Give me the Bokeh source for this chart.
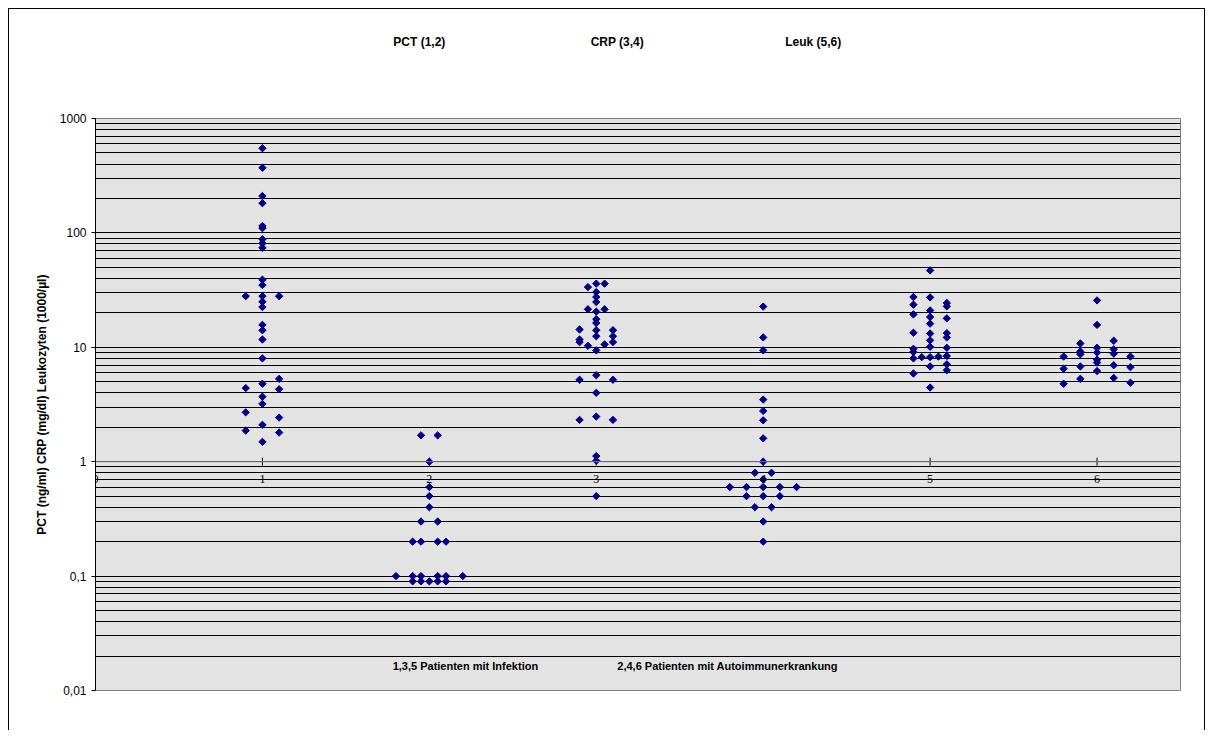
import numpy as np
from bokeh.plotting import figure
from bokeh.models import (Range1d, FixedTicker, Span, Label, LabelSet, LinearAxis,
                          ColumnDataSource, CustomJSTickFormatter)
from bokeh.layouts import column
from bokeh.embed import file_html
from bokeh.resources import INLINE

# ---------------- data ----------------
# 1: PCT, infection
pct_inf_x = [1.0]*23 + [0.9]*4 + [1.1]*5
pct_inf_y = [550, 371, 210, 182, 115, 110, 88, 81, 74, 39, 35, 28, 25, 22.5,
             15.7, 14.1, 11.7, 8.0, 4.8, 3.7, 3.2, 2.1, 1.49,
             28, 4.4, 2.7, 1.87,
             28, 5.3, 4.3, 2.43, 1.80]
# 2: PCT, autoimmune
pct_auto_x = [1.95, 2.05, 2.0, 2.0, 2.0, 2.0, 1.95, 2.05,
              1.9, 1.95, 2.05, 2.1,
              1.8, 1.9, 1.95, 2.05, 2.1, 2.2,
              1.9, 1.95, 2.0, 2.05, 2.1]
pct_auto_y = [1.7, 1.7, 1.0, 0.6, 0.5, 0.4, 0.3, 0.3,
              0.2, 0.2, 0.2, 0.2,
              0.1, 0.1, 0.1, 0.1, 0.1, 0.1,
              0.09, 0.09, 0.09, 0.09, 0.09]
# 3: CRP, infection
crp_inf_x = [2.95, 3.0, 3.05, 3.0, 3.0, 3.0, 2.95, 3.0, 3.05, 3.0, 3.0,
             2.9, 3.0, 3.1, 3.0, 3.1, 2.9, 2.9, 3.1, 2.95, 3.05, 3.0,
             3.0, 2.9, 3.1, 3.0, 3.0, 2.9, 3.1, 3.0, 3.0, 3.0]
crp_inf_y = [33.6, 36, 36, 30.4, 27.5, 24.9, 21.5, 20.5, 21.5, 17.6, 16.3,
             14.3, 14.1, 14.1, 12.5, 12.5, 11.7, 11.1, 11.1, 10.3, 10.6, 9.4,
             5.7, 5.2, 5.2, 4.0, 2.48, 2.32, 2.32, 1.12, 1.02, 0.5]
# 4: CRP, autoimmune
crp_auto_x = [4.0]*11 + [3.95, 4.05] + [3.8, 3.9, 4.0, 4.1, 4.2] + [3.9, 4.0, 4.1] + [3.95, 4.05]
crp_auto_y = [22.7, 12.2, 9.4, 3.49, 2.78, 2.30, 1.60, 1.0, 0.7, 0.3, 0.2,
              0.8, 0.8, 0.6, 0.6, 0.6, 0.6, 0.6, 0.5, 0.5, 0.5, 0.4, 0.4]
# 5: Leukocytes, infection
leuk_inf_x = [5.0, 4.9, 5.0, 4.9, 5.1, 5.1, 4.9, 5.0, 5.0, 5.1, 5.0, 4.9, 5.0,
              5.1, 5.1, 5.0, 5.0, 4.9, 5.1, 4.9, 4.9, 4.95, 5.0, 5.05, 5.1,
              5.1, 5.0, 5.1, 4.9, 5.0]
leuk_inf_y = [47.0, 27.5, 27.3, 23.6, 24.4, 22.8, 19.4, 21.0, 18.4, 17.9, 16.1,
              13.4, 13.2, 13.3, 12.2, 11.5, 10.1, 9.7, 9.9, 9.1, 8.0, 8.2, 8.2,
              8.3, 8.4, 7.1, 6.8, 6.3, 5.9, 4.45]
# 6: Leukocytes, autoimmune
leuk_auto_x = [6.0, 6.0, 5.9, 6.1, 5.9, 5.9, 6.0, 6.0, 6.1, 6.1, 5.8, 6.2,
               6.0, 6.0, 5.9, 6.1, 5.8, 6.2, 6.0, 5.9, 6.1, 5.8, 6.2]
leuk_auto_y = [25.7, 15.7, 10.8, 11.4, 9.2, 8.7, 9.9, 9.0, 9.6, 8.8, 8.3, 8.3,
               7.8, 7.35, 6.8, 6.97, 6.5, 6.7, 6.2, 5.3, 5.4, 4.8, 4.9]

x_ticks = [0, 1, 2, 3, 4, 5, 6]
x_tick_labels = ["0", "1", "2", "3", "4", "5", "6"]
y_major = [0.01, 0.1, 1, 10, 100, 1000]

titles = ["PCT (1,2)", "CRP (3,4)", "Leuk (5,6)"]
title_x = [1.94, 3.126, 4.30]
notes = ["1,3,5 Patienten mit Infektion", "2,4,6 Patienten mit Autoimmunerkrankung"]
note_x = [2.216, 3.787]

FONT = "Liberation Sans"

# ---------------- figure ----------------
p = figure(width=1195, height=721,
           x_range=Range1d(0, 6.5), y_range=Range1d(0.01, 1000),
           y_axis_type="log", output_backend="svg", toolbar_location=None,
           min_border_left=86, min_border_right=24,
           min_border_top=109, min_border_bottom=40,
           background_fill_color="#e3e3e3", border_fill_color="white",
           outline_line_color="#808080")

minor = [m * d for d in [0.01, 0.1, 1, 10, 100] for m in range(2, 10)]
ticker = FixedTicker(ticks=y_major, minor_ticks=minor)
p.yaxis.ticker = ticker
p.ygrid.ticker = ticker
p.ygrid.grid_line_color = "black"
p.ygrid.minor_grid_line_color = "black"
p.xgrid.visible = False
p.xaxis.visible = False

ya = p.yaxis[0]
ya.formatter = CustomJSTickFormatter(code="return String(tick).replace('.', ',');")
ya.axis_label = "PCT (ng/ml) CRP (mg/dl) Leukozyten (1000/µl)"
ya.axis_label_text_font = FONT
ya.axis_label_text_font_style = "bold"
ya.axis_label_text_font_size = "12px"
ya.axis_label_text_color = "black"
ya.axis_label_standoff = 8
ya.major_label_text_font = FONT
ya.major_label_text_font_size = "12px"
ya.major_label_text_color = "black"
ya.major_label_standoff = 5
ya.major_tick_out = 4
ya.major_tick_in = 0
ya.minor_tick_line_color = None
ya.axis_line_color = "black"
ya.major_tick_line_color = "black"

# group titles above the plot area (drawn as an extra top axis)
top = LinearAxis(ticker=FixedTicker(ticks=title_x),
                 major_label_overrides={x: t for x, t in zip(title_x, titles)},
                 axis_line_color=None, major_tick_line_color=None,
                 minor_tick_line_color=None, major_label_standoff=64,
                 major_label_text_font=FONT, major_label_text_font_style="bold",
                 major_label_text_font_size="12px", major_label_text_color="black")
p.add_layout(top, "above")

# horizontal category axis crossing at y = 1
p.add_layout(Span(location=1, dimension="width", line_color="#808080", line_width=1))
p.scatter(x=x_ticks, y=[1]*len(x_ticks), marker="dash", angle=np.pi/2, size=8,
          line_color="black", line_width=1)
tick_src = ColumnDataSource(dict(x=x_ticks, y=[1]*len(x_ticks), t=x_tick_labels))
p.add_layout(LabelSet(x="x", y="y", text="t", source=tick_src, y_offset=-17,
                      text_align="center", text_baseline="middle",
                      text_font=FONT, text_font_size="12px", text_color="black"))

# data points
for xs, ys in [(pct_inf_x, pct_inf_y), (pct_auto_x, pct_auto_y),
               (crp_inf_x, crp_inf_y), (crp_auto_x, crp_auto_y),
               (leuk_inf_x, leuk_inf_y), (leuk_auto_x, leuk_auto_y)]:
    p.scatter(x=xs, y=ys, marker="square", angle=np.pi/4, size=5.2,
              fill_color="#000080", line_color="#000080")

# notes inside bottom of plot
for t, x in zip(notes, note_x):
    p.add_layout(Label(x=x, y=0.01, y_offset=25, text=t, text_align="center",
                       text_baseline="middle", text_font=FONT, text_color="black",
                       text_font_style="bold", text_font_size="11px"))

layout = column(p, styles={"border-left": "1px solid black", "border-right": "1px solid black",
                           "border-top": "1px solid black",
                           "margin-left": "8px", "margin-top": "8px"})

open("out.html", "w").write(file_html(layout, INLINE))
